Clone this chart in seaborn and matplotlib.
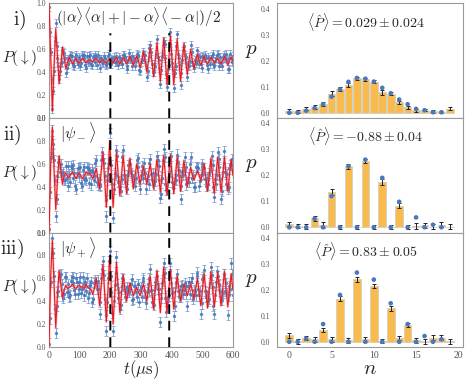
import matplotlib
matplotlib.use("Agg")
import matplotlib.pyplot as plt
import seaborn as sns
import numpy as np
from matplotlib.ticker import FormatStrFormatter

# ---- time traces (values in percent), one sample every 5.5 us ----
t_us = np.arange(110) * 5.5
t_mid = t_us + 2.75   # second, interleaved set of measured points

fit_i = [100, 55, 6, 45, 78, 55, 30, 46, 62, 52,
         43, 49, 53, 50, 47, 50, 52, 49, 48, 51,
         52, 50, 48, 50, 51, 50, 49, 51, 52, 50,
         48, 50, 51, 49, 48, 50, 52, 50, 48, 51,
         53, 50, 47, 50, 53, 50, 47, 50, 54, 50,
         46, 50, 54, 50, 44, 50, 58, 50, 40, 50,
         62, 50, 36, 50, 66, 50, 32, 50, 70, 50,
         29, 50, 72, 50, 29, 50, 69, 50, 32, 50,
         65, 50, 38, 50, 60, 50, 43, 50, 56, 50,
         46, 50, 54, 49, 47, 50, 53, 51, 48, 50,
         52, 49, 47, 50, 54, 51, 46, 50, 53, 50]
data_i = [97, 58, 8, 41, 83, 52, 34, 48, 59, 57,
          39, 52, 51, 54, 48, 45, 55, 47, 52, 48,
          54, 55, 44, 49, 54, 47, 53, 49, 53, 55,
          44, 52, 48, 52, 47, 54, 47, 52, 51, 49,
          54, 46, 52, 47, 55, 53, 43, 51, 52, 54,
          49, 45, 56, 54, 41, 51, 56, 55, 36, 53,
          64, 47, 40, 45, 69, 51, 30, 54, 67, 52,
          27, 46, 75, 48, 26, 45, 73, 52, 29, 51,
          63, 53, 36, 45, 64, 49, 44, 48, 59, 47,
          47, 54, 52, 52, 43, 52, 52, 56, 45, 52,
          56, 45, 48, 53, 52, 56, 43, 52, 52, 54]
data_i_mid = [75, 34, 24, 67, 63, 45, 41, 49, 58, 52,
              44, 47, 55, 54, 46, 53, 50, 53, 45, 55,
              52, 46, 54, 49, 55, 46, 52, 55, 46, 50,
              52, 49, 54, 46, 48, 56, 47, 51, 53, 49,
              50, 53, 50, 47, 55, 51, 45, 57, 51, 45,
              52, 50, 55, 42, 49, 58, 51, 46, 41, 61,
              58, 40, 47, 56, 53, 44, 42, 56, 65, 38,
              43, 65, 56, 42, 39, 63, 56, 46, 39, 59,
              55, 48, 46, 50, 58, 46, 51, 50, 55, 53,
              44, 53, 55, 46, 53, 47, 54, 47, 50, 55,
              49, 53, 45, 55, 52, 51, 43, 56, 49, 51]

fit_ii = [0, 60, 92, 55, 20, 45, 67, 55, 42, 50,
          52, 49, 48, 51, 53, 50, 47, 50, 52, 49,
          47, 50, 53, 51, 52, 50, 47, 51, 56, 47,
          38, 54, 70, 46, 22, 51, 80, 51, 22, 46,
          70, 51, 32, 50, 67, 50, 34, 50, 65, 51,
          38, 49, 60, 51, 42, 50, 58, 50, 42, 51,
          60, 49, 38, 51, 64, 50, 35, 50, 67, 50,
          33, 51, 68, 50, 34, 50, 66, 50, 36, 50,
          63, 51, 40, 49, 57, 50, 46, 50, 54, 50,
          45, 52, 60, 48, 36, 50, 65, 50, 34, 50,
          66, 50, 35, 50, 66, 50, 36, 50, 64, 50]
data_ii = [3, 66, 89, 63, 14, 49, 60, 60, 51, 46,
           58, 41, 51, 58, 48, 52, 38, 56, 56, 43,
           55, 47, 46, 56, 55, 42, 53, 49, 63, 42,
           42, 63, 64, 49, 14, 56, 87, 47, 13, 52,
           72, 44, 40, 47, 72, 44, 38, 59, 60, 49,
           45, 41, 63, 57, 38, 58, 51, 52, 47, 42,
           64, 46, 45, 45, 67, 58, 30, 48, 73, 42,
           37, 58, 65, 44, 43, 46, 68, 55, 29, 53,
           55, 57, 44, 44, 66, 48, 40, 57, 57, 41,
           50, 60, 56, 41, 42, 52, 60, 59, 31, 42,
           70, 57, 29, 53, 71, 42, 38, 56, 60, 59]
data_ii_mid = [35, 69, 77, 46, 29, 62, 53, 51, 53, 46,
               48, 58, 44, 56, 59, 41, 52, 49, 57, 41,
               57, 48, 57, 43, 53, 55, 46, 61, 44, 47,
               41, 70, 61, 28, 46, 64, 59, 42, 38, 50,
               67, 45, 36, 66, 50, 44, 50, 54, 52, 50,
               47, 48, 65, 45, 50, 48, 61, 38, 49, 61,
               51, 52, 42, 51, 63, 46, 34, 63, 66, 37,
               44, 54, 67, 39, 47, 50, 62, 49, 41, 50,
               66, 42, 48, 60, 48, 50, 40, 57, 56, 45,
               57, 51, 47, 48, 46, 54, 67, 40, 47, 50,
               64, 47, 36, 61, 53, 51, 40, 59, 64, 44]

fit_iii = [0, 62, 93, 55, 17, 45, 67, 55, 43, 50,
           54, 51, 52, 53, 55, 52, 51, 53, 54, 52,
           53, 51, 55, 52, 51, 50, 46, 52, 60, 50,
           36, 54, 72, 47, 22, 51, 80, 50, 20, 47,
           74, 52, 30, 47, 63, 51, 40, 48, 56, 50,
           45, 49, 52, 48, 45, 50, 55, 48, 40, 51,
           62, 48, 33, 50, 67, 49, 30, 50, 70, 50,
           30, 49, 68, 50, 33, 48, 62, 51, 40, 48,
           55, 50, 45, 50, 55, 49, 42, 51, 60, 48,
           36, 50, 64, 49, 34, 50, 66, 50, 35, 50,
           65, 50, 36, 51, 66, 50, 35, 50, 64, 50]
data_iii = [3, 57, 95, 62, 12, 48, 61, 64, 45, 46,
            61, 48, 44, 58, 61, 50, 60, 46, 57, 47,
            61, 55, 49, 43, 53, 57, 42, 57, 57, 58,
            29, 60, 75, 42, 14, 60, 84, 48, 14, 54,
            79, 43, 33, 53, 59, 44, 48, 50, 51, 59,
            42, 53, 44, 55, 50, 44, 58, 44, 48, 49,
            68, 39, 37, 57, 62, 51, 22, 56, 73, 43,
            39, 45, 73, 47, 27, 56, 64, 44, 44, 54,
            50, 53, 36, 57, 57, 45, 50, 45, 65, 45,
            29, 59, 67, 44, 40, 42, 70, 52, 29, 57,
            62, 55, 44, 47, 64, 56, 28, 53, 73, 45]
data_iii_mid = [25, 82, 82, 33, 36, 49, 63, 55, 43, 61,
                48, 55, 45, 61, 56, 46, 57, 51, 61, 51,
                45, 57, 60, 47, 54, 39, 56, 58, 51, 51,
                39, 68, 63, 28, 39, 75, 62, 30, 40, 65,
                55, 48, 37, 60, 51, 49, 52, 48, 55, 41,
                53, 48, 55, 39, 52, 60, 50, 38, 55, 60,
                50, 43, 50, 55, 51, 46, 43, 58, 65, 31,
                44, 66, 56, 48, 36, 57, 49, 50, 53, 46,
                56, 46, 53, 46, 60, 42, 49, 62, 51, 49,
                38, 61, 49, 45, 48, 56, 63, 36, 45, 66,
                54, 49, 41, 64, 49, 47, 45, 51, 64, 47]

data_err = [0.034, 0.045, 0.045]
dash_t = [200, 392]
trace_labels = [r"$(|\alpha\rangle\langle\alpha| + |-\alpha\rangle\langle-\alpha|)/2$",
                r"$|\psi_-\rangle$", r"$|\psi_+\rangle$"]
row_labels = [r"$\mathrm{i)}$", r"$\mathrm{ii)}$", r"$\mathrm{iii)}$"]

# ---- photon number distributions ----
n_vals = np.arange(20)
p1_bar = [0.008, 0.005, 0.016, 0.022, 0.033, 0.073, 0.090, 0.107, 0.132, 0.128,
          0.120, 0.078, 0.074, 0.040, 0.022, 0.010, 0.010, 0.005, 0.003, 0.015]
p1_err = [0.007, 0.006, 0.006, 0.007, 0.007, 0.009, 0.008, 0.008, 0.007, 0.007,
          0.007, 0.008, 0.007, 0.007, 0.006, 0.006, 0.005, 0.005, 0.004, 0.006]
p1_th = [0.0, 0.0, 0.008, 0.018, 0.033, 0.062, 0.090, 0.119, 0.134, 0.131,
         0.120, 0.096, 0.075, 0.051, 0.033, 0.015, 0.010, 0.002, 0.002]
p2_bar = [0.012, 0.005, 0.003, 0.035, 0.008, 0.135, 0.002, 0.235, 0.002, 0.255,
          0.002, 0.175, 0.002, 0.083, 0.002, 0.005, 0.008, 0.003, 0.010, 0.002]
p2_err = [0.010, 0.009, 0.008, 0.009, 0.012, 0.012, 0.008, 0.010, 0.008, 0.008,
          0.008, 0.011, 0.008, 0.010, 0.008, 0.011, 0.009, 0.009, 0.010, 0.009]
p2_th = [0.0, 0.0, 0.0, 0.033, 0.0, 0.120, 0.0, 0.235, 0.0, 0.260,
         0.0, 0.190, 0.0, 0.098, 0.0, 0.038, 0.0, 0.010, 0.0]
p3_bar = [0.025, 0.002, 0.015, 0.010, 0.045, 0.010, 0.165, 0.005, 0.240, 0.010,
          0.215, 0.002, 0.128, 0.015, 0.065, 0.005, 0.002, 0.015, 0.015, 0.002]
p3_err = [0.010, 0.009, 0.008, 0.009, 0.009, 0.010, 0.010, 0.009, 0.009, 0.009,
          0.009, 0.008, 0.010, 0.009, 0.008, 0.008, 0.010, 0.010, 0.010, 0.009]
p3_th = [0.0, 0.0, 0.012, 0.0, 0.068, 0.0, 0.180, 0.0, 0.266, 0.0,
         0.239, 0.0, 0.148, 0.0, 0.068, 0.0, 0.022, 0.0, 0.010]
parity_labels = [r"$\langle\hat{P}\rangle = 0.029 \pm 0.024$",
                 r"$\langle\hat{P}\rangle = -0.88 \pm 0.04$",
                 r"$\langle\hat{P}\rangle = 0.83 \pm 0.05$"]

sns.set_style("white")
plt.rcParams["font.family"] = ["Liberation Serif", "DejaVu Serif"]
plt.rcParams["mathtext.fontset"] = "cm"

blue = "#4a78bd"
blue_light = "#7395ca"
orange = "#f9bb4b"
frame = "#9a9a9a"
tick_col = "#555555"

fig = plt.figure(figsize=(4.66, 3.81), dpi=100)
W, H = 466.0, 381.0
row_top = [3.5, 118.0, 232.5]
row_h = 114.5


def style_frame(ax):
    for sp in ax.spines.values():
        sp.set_color(frame)
        sp.set_linewidth(0.8)
    ax.tick_params(axis="both", labelsize=5.5, labelcolor=tick_col, length=0, pad=2)


fits = [fit_i, fit_ii, fit_iii]
datas = [data_i, data_ii, data_iii]
datas_mid = [data_i_mid, data_ii_mid, data_iii_mid]
for i in range(3):
    ax = fig.add_axes([49 / W, 1 - (row_top[i] + row_h) / H, 184 / W, row_h / H])
    f = np.array(fits[i]) / 100.0
    for tt, dd in ((t_us, datas[i]), (t_mid, datas_mid[i])):
        ax.errorbar(tt, np.array(dd) / 100.0, yerr=data_err[i], fmt="o", ms=1.4,
                    mfc=blue, mec=blue, ecolor=blue_light, elinewidth=0.7,
                    capsize=1.2, capthick=0.6, alpha=0.85, zorder=2)
    sns.lineplot(x=t_us, y=f, color="#ff8080", lw=1.7, alpha=0.45, ax=ax, zorder=3)
    sns.lineplot(x=t_us, y=f, color="#e81820", lw=0.8, ax=ax, zorder=4)
    top = 0.74 if i == 0 else 1.0
    for td in dash_t:
        ax.axvline(td, ymax=top, color="k", lw=1.4, dashes=(5, 3.5), snap=False, zorder=5)
    ax.set_xlim(0, 600)
    ax.set_ylim(0, 1.0)
    ax.set_yticks([0, 0.2, 0.4, 0.6, 0.8, 1.0])
    ax.yaxis.set_major_formatter(FormatStrFormatter("%.1f"))
    ax.set_xticks([0, 100, 200, 300, 400, 500, 600])
    style_frame(ax)
    if i < 2:
        ax.set_xticklabels([])
    else:
        ax.tick_params(axis="x", labelsize=7, pad=3)
        ax.set_xlabel(r"$t(\mu\mathrm{s})$", fontsize=12, labelpad=-1)
    ax.set_ylabel("")
    ax.text(0.04 if i == 0 else 0.06, 0.98, trace_labels[i], transform=ax.transAxes,
            fontsize=11 if i == 0 else 11.5, va="top", ha="left", zorder=6)
    ax.text(-0.255, 0.52, r"$P(\downarrow)$", transform=ax.transAxes,
            fontsize=11, va="center", ha="left")
    ax.text(-0.265 + (0.07 if i == 0 else 0.015 if i == 1 else 0.0), 0.95,
            row_labels[i], transform=ax.transAxes, fontsize=14, va="top", ha="left")

bars = [p1_bar, p2_bar, p3_bar]
errs = [p1_err, p2_err, p3_err]
ths = [p1_th, p2_th, p3_th]
for i in range(3):
    ax = fig.add_axes([277 / W, 1 - (row_top[i] + row_h) / H, 186 / W, row_h / H])
    ax.bar(n_vals, bars[i], width=0.9, color=orange, edgecolor="#cfcfcf", lw=0.6, zorder=2)
    ax.errorbar(n_vals, bars[i], yerr=errs[i], fmt="none", ecolor="#222222",
                elinewidth=0.7, capsize=1.6, capthick=0.7, zorder=3)
    th = ths[i]
    sns.scatterplot(x=n_vals[:len(th)], y=th, color=blue, s=11, edgecolor="none",
                    ax=ax, zorder=5)
    ax.set_xlim(-1.45, 20.55)
    ax.set_ylim(-0.02, 0.42)
    ax.set_yticks([0, 0.1, 0.2, 0.3, 0.4])
    ax.yaxis.set_major_formatter(FormatStrFormatter("%.1f"))
    ax.set_xticks([0, 5, 10, 15, 20])
    style_frame(ax)
    ax.tick_params(axis="y", pad=5)
    if i < 2:
        ax.set_xticklabels([])
    else:
        ax.tick_params(axis="x", labelsize=7, pad=3)
        ax.set_xlabel(r"$n$", fontsize=15, labelpad=0)
    ax.text(0.478, 0.84, parity_labels[i], transform=ax.transAxes,
            fontsize=10, va="center", ha="center")
    ax.text(-0.135, 0.59, r"$p$", transform=ax.transAxes, fontsize=15,
            va="center", ha="center")

fig.savefig("out.png", dpi=100)
